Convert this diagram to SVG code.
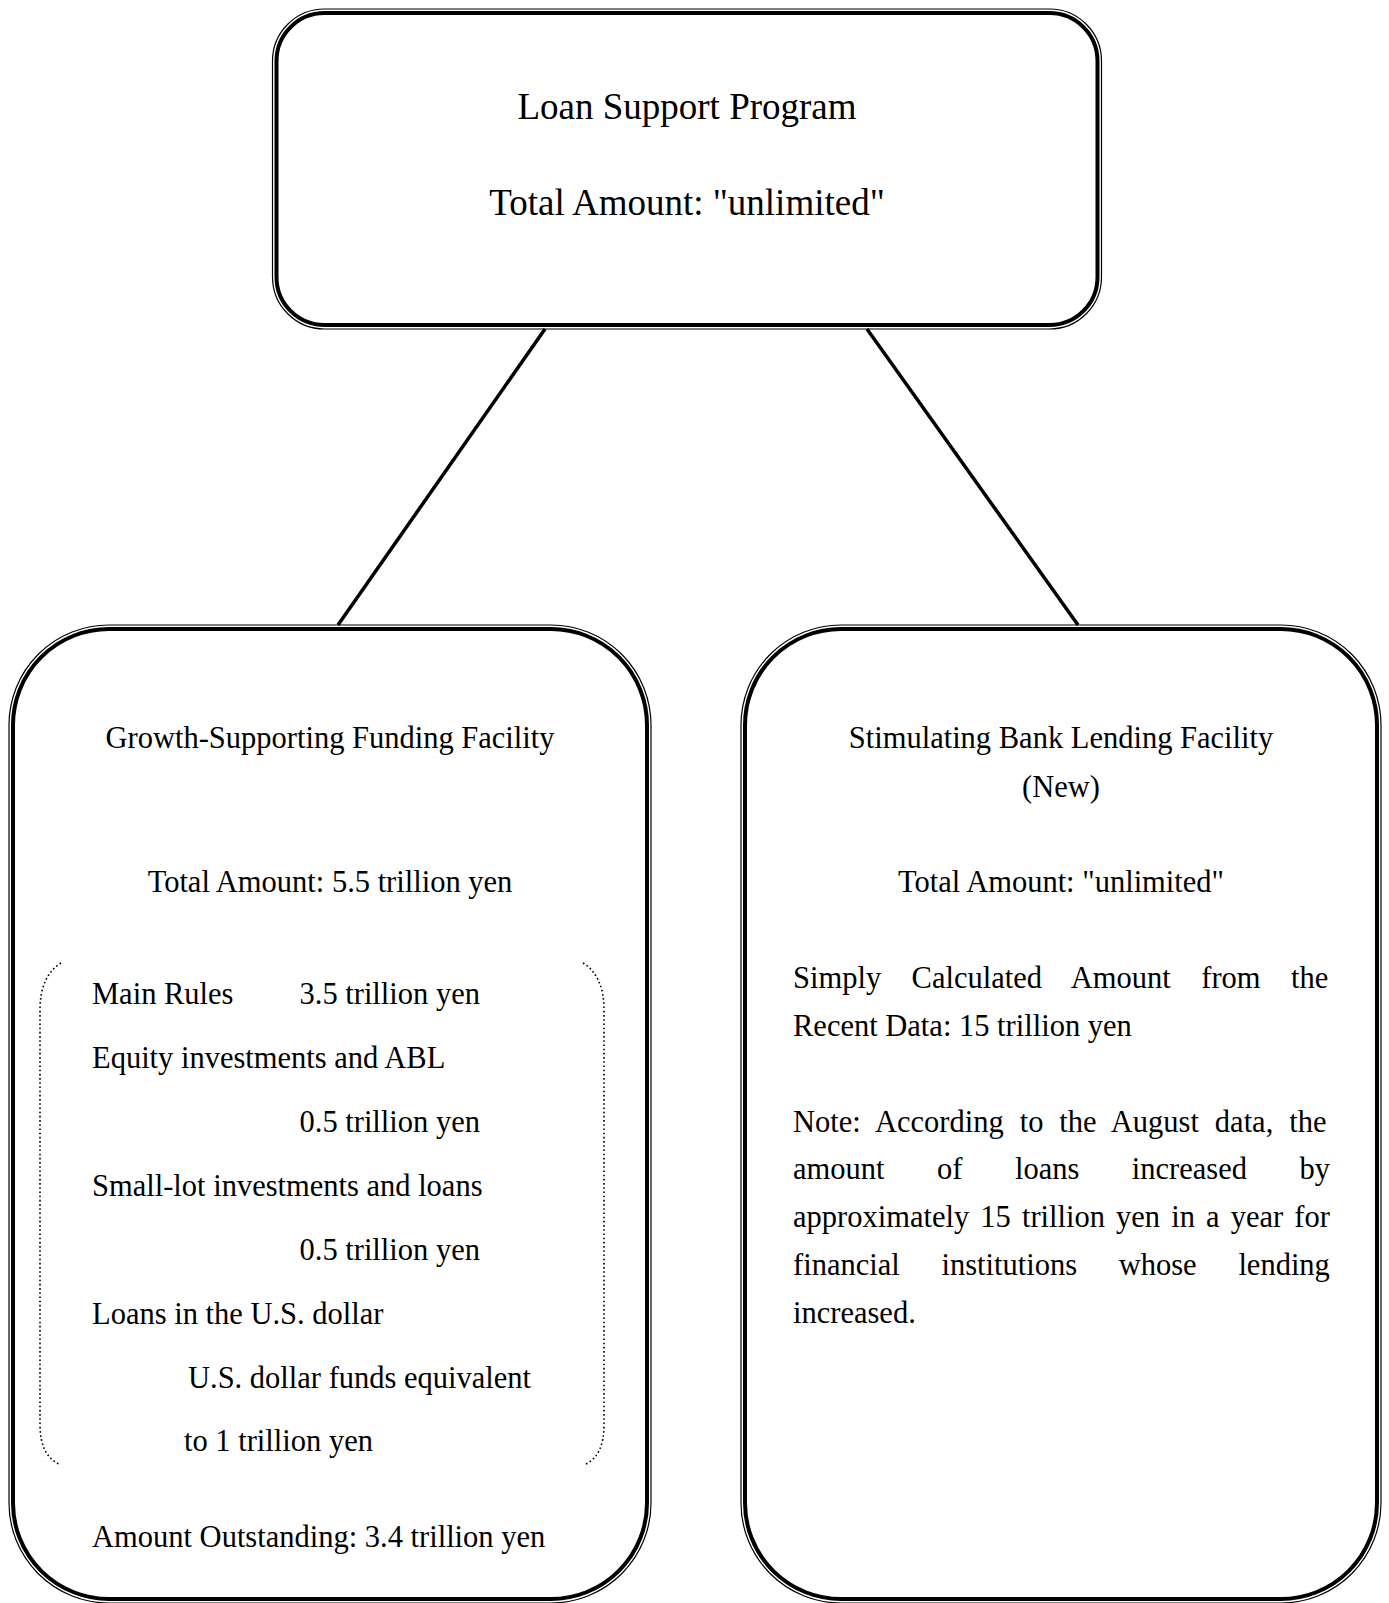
<svg xmlns="http://www.w3.org/2000/svg" width="1389" height="1603" viewBox="0 0 1389 1603">
<style>
.thin{fill:none;stroke:#000;stroke-width:1.2}
.thick{fill:none;stroke:#000;stroke-width:4}
.t{font-family:"Liberation Serif","Times New Roman",serif;fill:#000;font-size:30.5px}
.big{font-size:37px}
.c{text-anchor:middle}
.br{fill:none;stroke:#000;stroke-width:1.6;stroke-dasharray:1.6 2.6}
.con{stroke:#000;stroke-width:3.5;fill:none}
</style>
<rect width="1389" height="1603" fill="#fff"/>
<g id="connectors">
<line class="con" x1="545" y1="329" x2="338" y2="625"/>
<line class="con" x1="867" y1="329" x2="1078" y2="625"/>
</g>
<g id="loan-support-program">
<rect class="thin" x="272.5" y="9" width="829" height="320" rx="52"/>
<rect class="thick" x="276.5" y="13" width="821" height="312" rx="48"/>
<text class="t big c" x="687" y="119">Loan Support Program</text>
<text class="t big c" x="687" y="215">Total Amount: "unlimited"</text>
</g>
<g id="growth-supporting">
<rect class="thin" x="9" y="625" width="642" height="978" rx="100"/>
<rect class="thick" x="13" y="629" width="634" height="970" rx="96"/>
<text class="t c" x="330" y="747.5">Growth-Supporting Funding Facility</text>
<text class="t c" x="330" y="891.5">Total Amount: 5.5 trillion yen</text>
<path class="br" d="M61,963 Q40,976 40,1010 L40,1425 Q40,1455 59,1464"/>
<path class="br" d="M583,963 Q604,976 604,1010 L604,1425 Q604,1455 586,1464"/>
<text class="t" x="92" y="1003.5">Main Rules</text>
<text class="t" x="299.5" y="1003.5">3.5 trillion yen</text>
<text class="t" x="92" y="1067.5">Equity investments and ABL</text>
<text class="t" x="299.5" y="1131.5">0.5 trillion yen</text>
<text class="t" x="92" y="1195.5">Small-lot investments and loans</text>
<text class="t" x="299.5" y="1259.5">0.5 trillion yen</text>
<text class="t" x="92" y="1323.5">Loans in the U.S. dollar</text>
<text class="t" x="188" y="1387.5">U.S. dollar funds equivalent</text>
<text class="t" x="184" y="1450.5">to 1 trillion yen</text>
<text class="t" x="92" y="1546.5">Amount Outstanding: 3.4 trillion yen</text>
</g>
<g id="stimulating-bank-lending">
<rect class="thin" x="741" y="625" width="640" height="978" rx="100"/>
<rect class="thick" x="745" y="629" width="632" height="970" rx="96"/>
<text class="t c" x="1061" y="747.5">Stimulating Bank Lending Facility</text>
<text class="t c" x="1061" y="796.5">(New)</text>
<text class="t c" x="1061" y="891.5">Total Amount: "unlimited"</text>
<text class="t" x="793" y="987.5" word-spacing="22.85">Simply Calculated Amount from the</text>
<text class="t" x="793" y="1035.5">Recent Data: 15 trillion yen</text>
<text class="t" x="793" y="1131.5" word-spacing="8.3">Note: According to the August data, the</text>
<text class="t" x="793" y="1179" word-spacing="44.9">amount of loans increased by</text>
<text class="t" x="793" y="1227" word-spacing="3.5">approximately 15 trillion yen in a year for</text>
<text class="t" x="793" y="1275" word-spacing="34.1">financial institutions whose lending</text>
<text class="t" x="793" y="1323">increased.</text>
</g>
</svg>
